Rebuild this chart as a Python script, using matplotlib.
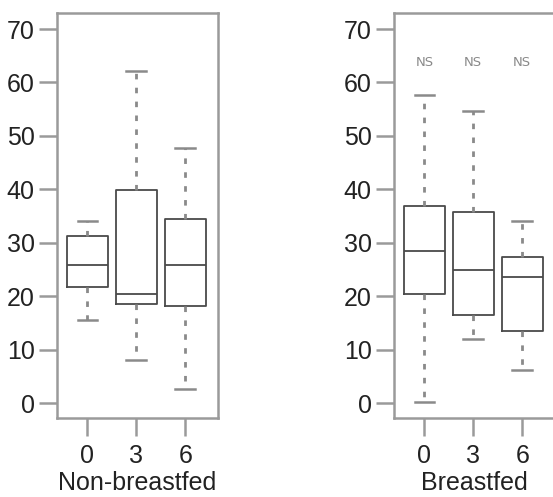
import matplotlib
matplotlib.use("Agg")
import matplotlib.pyplot as plt

plt.rcParams['font.family'] = ['Liberation Sans', 'DejaVu Sans']

months = ['0', '3', '6']

# non-breastfed
nb_low = [15.5, 8.1, 2.6]
nb_q1 = [21.7, 18.6, 18.2]
nb_med = [25.9, 20.4, 25.9]
nb_q3 = [31.2, 39.8, 34.4]
nb_high = [34.1, 62.2, 47.8]

# breastfed
bf_low = [0.2, 12.0, 6.1]
bf_q1 = [20.4, 16.5, 13.5]
bf_med = [28.4, 24.9, 23.5]
bf_q3 = [36.8, 35.8, 27.4]
bf_high = [57.7, 54.7, 34.0]

ns_labels = ['NS', 'NS', 'NS']
ns_y = 63.8


def make_stats(low, q1, med, q3, high):
    stats = []
    for i in range(len(low)):
        stats.append({'whislo': low[i], 'q1': q1[i], 'med': med[i],
                      'q3': q3[i], 'whishi': high[i], 'fliers': []})
    return stats


fig = plt.figure(figsize=(5.53, 4.97), dpi=100)
ax1 = fig.add_axes([57/553, 79/497, 161/553, 405/497])
ax2 = fig.add_axes([394/553, 79/497, 161/553, 405/497])

box_col = '#4a4a4a'
whisk_col = '#8a8a8a'
spine_col = '#9a9a9a'

for ax, st, xl in [(ax1, make_stats(nb_low, nb_q1, nb_med, nb_q3, nb_high), 'Non-breastfed'),
                   (ax2, make_stats(bf_low, bf_q1, bf_med, bf_q3, bf_high), 'Breastfed')]:
    ax.bxp(st, positions=[1, 2, 3], widths=0.84, showfliers=False,
           boxprops=dict(color=box_col, linewidth=1.3),
           medianprops=dict(color=box_col, linewidth=1.3),
           whiskerprops=dict(color=whisk_col, linewidth=2.0, linestyle=(0, (2, 3))),
           capprops=dict(color=whisk_col, linewidth=1.8), capwidths=0.4)
    ax.set_xlim(0.38, 3.67)
    ax.set_ylim(-2.8, 73)
    ax.set_yticks([0, 10, 20, 30, 40, 50, 60, 70])
    ax.set_xticks([1, 2, 3])
    ax.set_xticklabels(months)
    ax.tick_params(axis='both', labelsize=18, colors=spine_col, labelcolor='#222222',
                   length=13, width=1.8)
    ax.tick_params(axis='y', pad=3)
    ax.tick_params(axis='x', pad=6)
    ax.set_xlabel(xl, fontsize=18, color='#222222', labelpad=2)
    for s in ax.spines.values():
        s.set_color(spine_col)
        s.set_linewidth(1.8)

for i, t in enumerate(ns_labels):
    ax2.text(i + 1, ns_y, t, ha='center', va='center', fontsize=9.5,
             color='#8a8a8a', family='DejaVu Sans')

fig.savefig('out.png', dpi=100)
